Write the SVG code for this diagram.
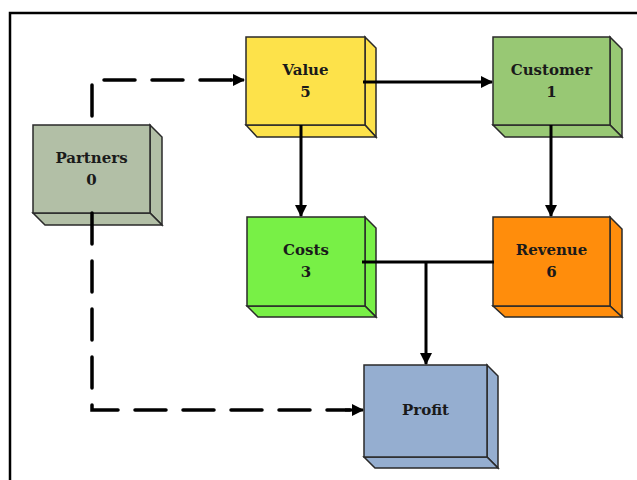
<svg xmlns="http://www.w3.org/2000/svg" width="637" height="480" viewBox="0 0 637 480">
  <style>
    .face { stroke: #2a2a2a; stroke-width: 1.5; stroke-linejoin: miter; }
    .lbl { font-family: "DejaVu Serif", "Liberation Serif", serif; font-weight: bold; font-size: 15px; fill: #1a1a1a; text-anchor: middle; }
    .solid { fill: none; stroke: #000; stroke-width: 3; }
    .dash { fill: none; stroke: #000; stroke-width: 3.5; stroke-dasharray: 31 17; stroke-linecap: round; }
  </style>
  <defs>
    <marker id="arrow" viewBox="0 0 12 12" refX="11" refY="6" markerWidth="12" markerHeight="12" markerUnits="userSpaceOnUse" orient="auto">
      <path d="M0,0 L12,6 L0,12 Z" fill="#000"/>
    </marker>
  </defs>

  <rect width="637" height="480" fill="#fff"/>
  <!-- outer frame -->
  <rect x="10" y="13" width="640" height="480" fill="none" stroke="#000" stroke-width="2.5"/>

  <g id="partners">
    <path class="face" fill="#b2bfa6" d="M150,125 L162,137 L162,225 L150,213 Z"/>
    <path class="face" fill="#b2bfa6" d="M33,213 L150,213 L162,225 L45,225 Z"/>
    <rect class="face" fill="#b2bfa6" x="33" y="125" width="117" height="88"/>
    <text class="lbl" x="91.5" y="163">Partners</text>
    <text class="lbl" x="91.5" y="185">0</text>
  </g>

  <g id="value">
    <path class="face" fill="#fde24a" d="M365,37 L376,48 L376,137 L365,125 Z"/>
    <path class="face" fill="#fde24a" d="M246,125 L365,125 L376,137 L257,137 Z"/>
    <rect class="face" fill="#fde24a" x="246" y="37" width="119" height="88"/>
    <text class="lbl" x="305.5" y="75">Value</text>
    <text class="lbl" x="305.5" y="97">5</text>
  </g>

  <g id="customer">
    <path class="face" fill="#98c874" d="M610,37 L622,49 L622,137 L610,125 Z"/>
    <path class="face" fill="#98c874" d="M493,125 L610,125 L622,137 L505,137 Z"/>
    <rect class="face" fill="#98c874" x="493" y="37" width="117" height="88"/>
    <text class="lbl" x="551.5" y="75">Customer</text>
    <text class="lbl" x="551.5" y="97">1</text>
  </g>

  <g id="costs">
    <path class="face" fill="#78f046" d="M365,217 L376,228 L376,317 L365,306 Z"/>
    <path class="face" fill="#78f046" d="M247,306 L365,306 L376,317 L258,317 Z"/>
    <rect class="face" fill="#78f046" x="247" y="217" width="118" height="89"/>
    <text class="lbl" x="306" y="255">Costs</text>
    <text class="lbl" x="306" y="277">3</text>
  </g>

  <g id="revenue">
    <path class="face" fill="#ff8d0c" d="M610,217 L622,229 L622,317 L610,306 Z"/>
    <path class="face" fill="#ff8d0c" d="M493,306 L610,306 L622,317 L505,317 Z"/>
    <rect class="face" fill="#ff8d0c" x="493" y="217" width="117" height="89"/>
    <text class="lbl" x="551.5" y="255">Revenue</text>
    <text class="lbl" x="551.5" y="277">6</text>
  </g>

  <g id="profit">
    <path class="face" fill="#95aed0" d="M487,365 L498,376 L498,468 L487,457 Z"/>
    <path class="face" fill="#95aed0" d="M364,457 L487,457 L498,468 L375,468 Z"/>
    <rect class="face" fill="#95aed0" x="364" y="365" width="123" height="92"/>
    <text class="lbl" x="425.5" y="415">Profit</text>
  </g>

  <g id="connectors">
    <path class="dash" d="M92,116 V80 H232"/>
    <path class="solid" d="M230,80 H244" marker-end="url(#arrow)"/>
    <path class="solid" d="M363,82 H492" marker-end="url(#arrow)"/>
    <path class="solid" d="M301,125 V216" marker-end="url(#arrow)"/>
    <path class="solid" d="M551,125 V216" marker-end="url(#arrow)"/>
    <path class="solid" d="M362,262 H494"/>
    <path class="solid" d="M426,262 V364" marker-end="url(#arrow)"/>
    <path class="dash" d="M92,213 V410 H350"/>
    <path class="solid" d="M345,410 H363" marker-end="url(#arrow)"/>
  </g>
</svg>
